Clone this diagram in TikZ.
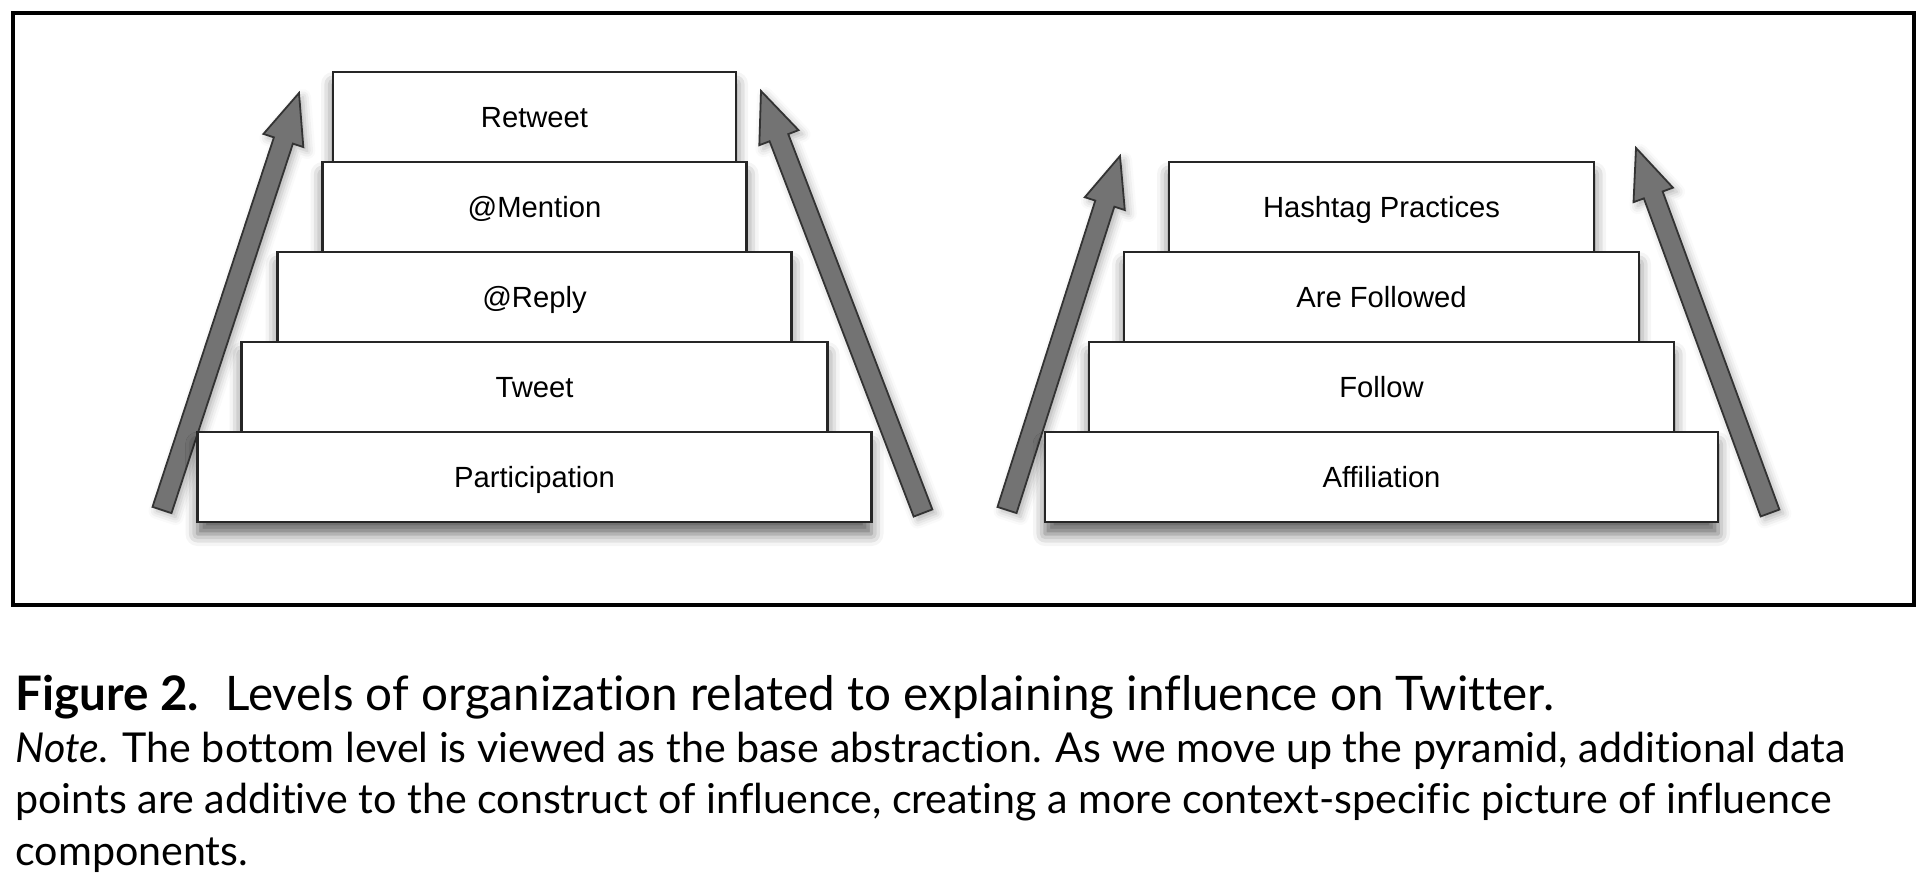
\documentclass[tikz,border=0pt]{standalone}
\usepackage{fontspec}
\setmainfont{Lato}[Ligatures=NoCommon]
\newfontfamily\boxfont{Liberation Sans}
\usetikzlibrary{calc,positioning,shadows.blur}
\tikzset{tier/.style={draw=black!85,line width=1.25pt,fill=white,minimum height=45pt,inner sep=0pt,outer sep=0pt,text height=10.4pt,text depth=0pt,font=\boxfont\fontsize{14.6}{16}\selectfont,blur shadow={shadow xshift=0pt,shadow yshift=-6pt,shadow blur radius=6pt,shadow opacity=60}},
riser/.style={fill=black!55,draw=black!80,line width=.9pt,blur shadow={shadow xshift=2pt,shadow yshift=-2pt,shadow blur radius=4pt,shadow opacity=30}},
captext/.style={anchor=base west,inner sep=0pt},capfont/.style={font=\fontsize{23.8}{28}\selectfont},notefont/.style={font=\fontsize{20.6}{24}\selectfont}}
\newcommand{\riser}[2]{\coordinate (hb) at ($(#2)!25pt!(#1)$);
\filldraw[riser] ($(#1)!5pt!90:(#2)$) -- ($(hb)!5pt!90:(#2)$) -- ($(hb)!10.5pt!90:(#2)$) -- (#2) -- ($(hb)!10.5pt!-90:(#2)$) -- ($(hb)!5pt!-90:(#2)$) -- ($(#1)!5pt!-90:(#2)$) -- cycle;}
\begin{document}
\begin{tikzpicture}[x=.5pt,y=-.5pt]
\useasboundingbox (0,0) rectangle (1926,888);
\draw[line width=2pt] (13,13) rectangle (1914,605);
\coordinate (la) at (162,510);\coordinate (lat) at (299,93);
\coordinate (lb) at (923,513);\coordinate (lbt) at (761,91);
\coordinate (ra) at (1007,510);\coordinate (rat) at (1120,156);
\coordinate (rb) at (1770,513);\coordinate (rbt) at (1636,148);
\riser{la}{lat}\riser{lb}{lbt}\riser{ra}{rat}\riser{rb}{rbt}
\node[tier,minimum width=201.5pt] (retweet) at (534.5,117) {Retweet};
\node[tier,minimum width=212pt,below=0pt of retweet] (mention) {@Mention};
\node[tier,minimum width=257pt,below=0pt of mention] (reply) {@Reply};
\node[tier,minimum width=293pt,below=0pt of reply] (tweet) {Tweet};
\node[tier,minimum width=337pt,below=0pt of tweet] (particip) {Participation};
\node[tier,minimum width=212.5pt] (hashtag) at (1381.5,207) {Hashtag Practices};
\node[tier,minimum width=257.5pt,below=0pt of hashtag] (followed) {Are Followed};
\node[tier,minimum width=292.5pt,below=0pt of followed] (follow) {Follow};
\node[tier,minimum width=336.5pt,below=0pt of follow] (affil) {Affiliation};
\node[captext,capfont] (title) at (15,710) {\textbf{Figure 2.}\hspace{.55em}Levels of organization related to explaining influence on Twitter.};
\node[captext,notefont] (note1) at (15,762) {\textit{Note}. The bottom level is viewed as the base abstraction. As we move up the pyramid, additional data};
\node[captext,notefont] (note2) at (15,813) {points are additive to the construct of influence, creating a more context-specific picture of influence};
\node[captext,notefont] (note3) at (15,865) {components.};
\end{tikzpicture}
\end{document}
